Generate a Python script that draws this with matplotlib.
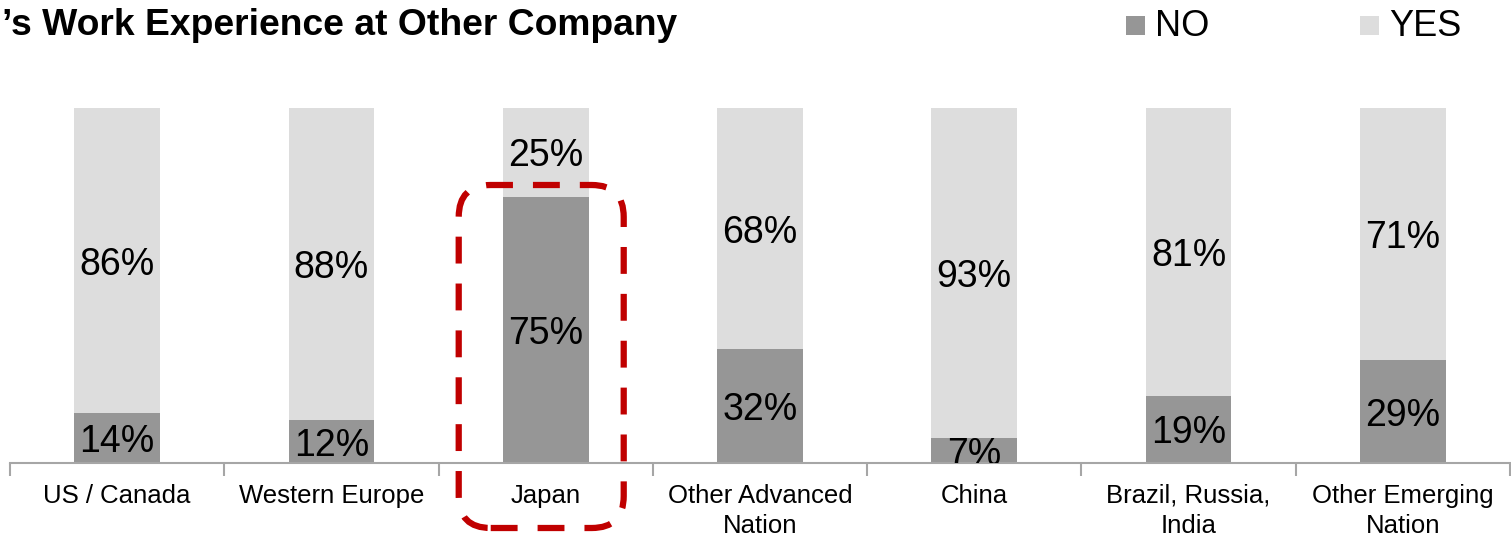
import matplotlib
matplotlib.use("Agg")
import matplotlib.pyplot as plt
from matplotlib.patches import FancyBboxPatch, Rectangle
from matplotlib.transforms import IdentityTransform

plt.rcParams['font.family'] = ['Liberation Sans', 'DejaVu Sans']

categories = ["US / Canada", "Western Europe", "Japan", "Other Advanced\nNation",
              "China", "Brazil, Russia,\nIndia", "Other Emerging\nNation"]
no_values = [14, 12, 75, 32, 7, 19, 29]
yes_values = [86, 88, 25, 68, 93, 81, 71]
title = "\u2019s Work Experience at Other Company"
highlight = "Japan"

NO_COLOR = "#969696"
YES_COLOR = "#DDDDDD"
RED = "#C00000"

W, H = 1511, 540
fig = plt.figure(figsize=(W / 100, H / 100), dpi=100)
ax = fig.add_axes([10 / W, (H - 463) / H, 1500 / W, 355 / H])

x = list(range(len(categories)))
ax.bar(x, no_values, width=0.4, color=NO_COLOR, zorder=2)
ax.bar(x, yes_values, width=0.4, bottom=no_values, color=YES_COLOR, zorder=2)

for xi, n, y in zip(x, no_values, yes_values):
    ax.text(xi, n / 2, f"{n}%", ha="center", va="center_baseline", fontsize=27,
            zorder=3, clip_on=True)
    ax.text(xi, n + y / 2, f"{y}%", ha="center", va="center_baseline", fontsize=27,
            zorder=3, clip_on=True)

ax.set_xlim(-0.5, len(categories) - 0.5)
ax.set_ylim(0, 100)
ax.set_yticks([])
for side in ("left", "right", "top"):
    ax.spines[side].set_visible(False)
ax.spines["bottom"].set_color("#A6A6A6")
ax.spines["bottom"].set_linewidth(1.5)
ax.set_xticks([i - 0.5 for i in range(len(categories) + 1)])
ax.set_xticklabels([])
ax.tick_params(axis="x", length=9, width=1.5, color="#A6A6A6")

for xi, cat in zip(x, categories):
    ax.annotate(cat, xy=(xi, 0), xycoords="data", xytext=(0, -15), textcoords="offset points",
                ha="center", va="top", fontsize=18.5, linespacing=1.3, annotation_clip=False)

# title
fig.text(2 / W, 1 - 35 / H, title, ha="left", va="baseline", fontsize=26.8, fontweight="bold")

# legend
for sx, label, col in [(1126, "NO", NO_COLOR), (1360, "YES", YES_COLOR)]:
    fig.patches.append(Rectangle((sx / W, 1 - 35 / H), 19 / W, 19 / H, transform=fig.transFigure,
                                 facecolor=col, edgecolor="none"))
    fig.text((sx + 29) / W, 1 - 36 / H, label, ha="left", va="baseline", fontsize=26)

# dashed highlight box around the selected category
hi = categories.index(highlight)
fig.canvas.draw()
cx, _ = ax.transData.transform((hi, 0))
x0, x1 = cx - 87, cx + 78
y_top = H - 185
y_bot = H - 528
box = FancyBboxPatch((x0, y_bot), x1 - x0, y_top - y_bot,
                     boxstyle="round,pad=0,rounding_size=32",
                     transform=IdentityTransform(), fill=False, edgecolor=RED,
                     linewidth=4.5, linestyle=(0, (4.3, 3.2)), zorder=5)
fig.patches.append(box)

fig.savefig("out.png", dpi=100)
